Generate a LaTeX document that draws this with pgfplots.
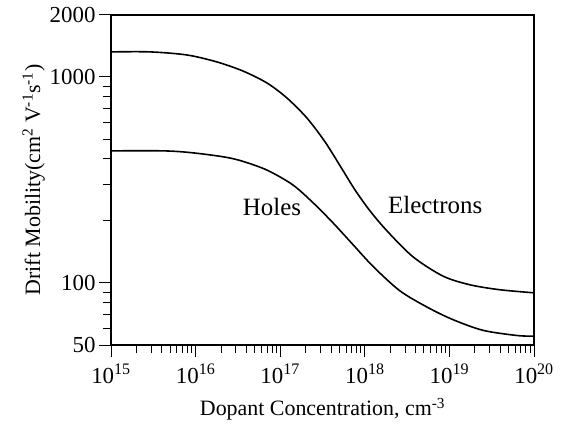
\documentclass[border=0pt]{standalone}
\usepackage{fontspec}
\setmainfont{Liberation Serif}
\usepackage{pgfplots}
\pgfplotsset{compat=1.18}

\begin{document}
\begin{tikzpicture}[x=1bp,y=1bp]
\path[use as bounding box] (0,0) rectangle (563,423);
\begin{axis}[
  at={(111bp,78bp)}, anchor=south west,
  scale only axis,
  width=423bp, height=330bp,
  xmode=log, ymode=log,
  xmin=1e15, xmax=1e20,
  ymin=50, ymax=2000,
  xtick={1e15,1e16,1e17,1e18,1e19,1e20},
  xticklabels={10\textsuperscript{15},10\textsuperscript{16},10\textsuperscript{17},10\textsuperscript{18},10\textsuperscript{19},10\textsuperscript{20}},
  minor xtick={2e15,3e15,4e15,5e15,6e15,7e15,8e15,9e15,
               2e16,3e16,4e16,5e16,6e16,7e16,8e16,9e16,
               2e17,3e17,4e17,5e17,6e17,7e17,8e17,9e17,
               2e18,3e18,4e18,5e18,6e18,7e18,8e18,9e18,
               2e19,3e19,4e19,5e19,6e19,7e19,8e19,9e19},
  ytick={50,100,1000,2000},
  yticklabels={50,100,1000,2000},
  minor ytick={60,70,80,90,200,300,400,500,600,700,800,900},
  xtick pos=bottom, ytick pos=left,
  tick align=outside,
  major tick length=12bp, minor tick length=8bp,
  every tick/.style={black, line width=1pt},
  axis line style={line width=1.2pt},
  tick label style={font=\fontsize{23}{25}\selectfont},
  xticklabel style={yshift=-3bp},
  xlabel={Dopant Concentration, cm\textsuperscript{-3}},
  ylabel={Drift Mobility(cm\textsuperscript{2} V\textsuperscript{-1}s\textsuperscript{-1})},
  label style={font=\fontsize{22}{24}\selectfont},
  xlabel style={yshift=-8bp},
  ylabel style={yshift=-2bp},
]
% Electrons
\addplot[black, line width=1.6pt, smooth, tension=0.5] coordinates {
  (1e15,1324) (2.89e15,1324) (7.9e15,1279) (1.79e16,1183) (3.63e16,1069)
  (6.98e16,935) (1.2e17,791) (2.07e17,632) (3.39e17,484) (5.09e17,371)
  (7.66e17,283) (1.15e18,224) (1.83e18,179) (3.71e18,134) (8.4e18,108)
  (1.75e19,98) (3.96e19,92.7) (1e20,89.6)
};
% Holes
\addplot[black, line width=1.6pt, smooth, tension=0.5] coordinates {
  (1e15,438) (4.1e15,438) (8.5e15,430) (1.95e16,412) (3.3e16,394)
  (6.9e16,354) (1.4e17,300) (2.45e17,245) (4.2e17,196) (7.2e17,154)
  (1.26e18,120) (2.6e18,91.6) (5.5e18,76.2) (1.1e19,66.4) (2.5e19,58.9)
  (6.3e19,55.6) (1e20,55.2)
};
\node[font=\fontsize{25}{27}\selectfont] at (axis cs:8e16,234) {Holes};
\node[font=\fontsize{25}{27}\selectfont] at (axis cs:6.8e18,240) {Electrons};
\end{axis}
\end{tikzpicture}
\end{document}
